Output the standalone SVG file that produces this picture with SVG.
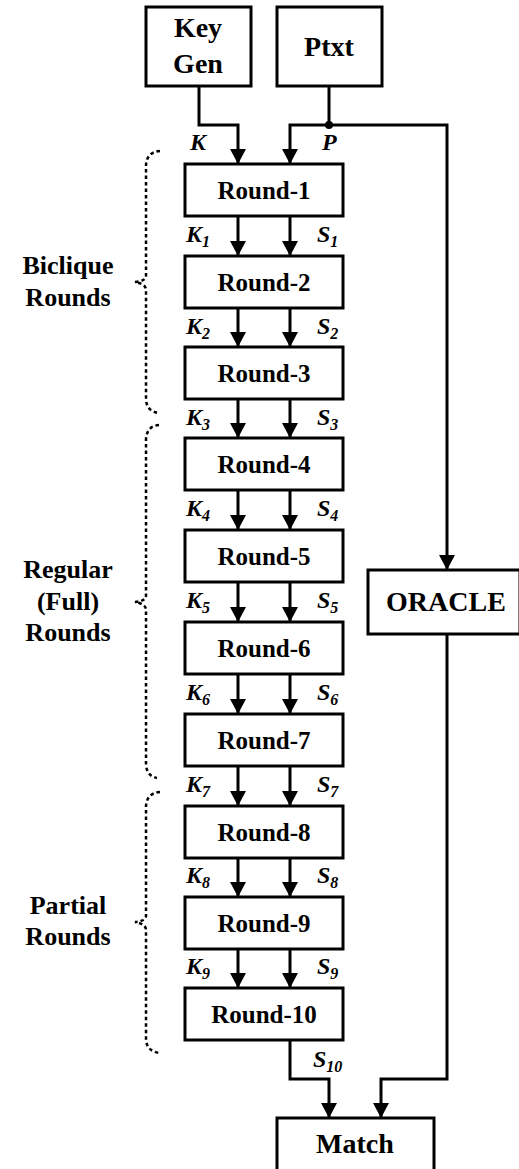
<svg xmlns="http://www.w3.org/2000/svg" width="519" height="1169" viewBox="0 0 519 1169">
  <defs>
    <marker id="arrow" viewBox="0 0 15 16" refX="15" refY="8" markerWidth="15" markerHeight="16" markerUnits="userSpaceOnUse" orient="auto">
      <path d="M0,0 L15,8 L0,16 z" fill="#000"/>
    </marker>
  </defs>
  <style>
    text { font-family: 'Liberation Serif', 'DejaVu Serif', serif; font-weight: bold; }
    .box { fill: #fff; stroke: #000; stroke-width: 3; }
    .wire { fill: none; stroke: #000; stroke-width: 3; marker-end: url(#arrow); }
    .brace { fill: none; stroke: #000; stroke-width: 2.5; stroke-dasharray: 3.5 3; }
    .big { font-size: 28px; text-anchor: middle; }
    .rnd { font-size: 25px; text-anchor: middle; }
    .side { font-size: 26px; text-anchor: middle; }
    .var { font-style: italic; font-size: 24px; }
    .sub { font-size: 16px; }
  </style>
  <rect width="519" height="1169" fill="#fff"/>

  <!-- connectors -->
  <g id="connectors">
    <path class="wire" d="M199,86 V125 H238 V164"/>
    <path class="wire" d="M329,86 V125 H290 V164"/>
    <path class="wire" d="M329,125 H447 V570"/>
    <circle cx="329" cy="125" r="4" fill="#000"/>
    <path class="wire" d="M238,216 V256"/><path class="wire" d="M290,216 V256"/>
    <path class="wire" d="M238,308 V347"/><path class="wire" d="M290,308 V347"/>
    <path class="wire" d="M238,399 V438"/><path class="wire" d="M290,399 V438"/>
    <path class="wire" d="M238,490 V530"/><path class="wire" d="M290,490 V530"/>
    <path class="wire" d="M238,582 V622"/><path class="wire" d="M290,582 V622"/>
    <path class="wire" d="M238,674 V714"/><path class="wire" d="M290,674 V714"/>
    <path class="wire" d="M238,766 V806"/><path class="wire" d="M290,766 V806"/>
    <path class="wire" d="M238,858 V897"/><path class="wire" d="M290,858 V897"/>
    <path class="wire" d="M238,949 V988"/><path class="wire" d="M290,949 V988"/>
    <path class="wire" d="M290,1040 V1079 H329 V1118"/>
    <path class="wire" d="M447,634 V1079 H381 V1118"/>

    <!-- signal labels -->
    <text class="var" x="190" y="150">K</text>
    <text class="var" x="322" y="150">P</text>
    <text class="var" x="186" y="242">K<tspan class="sub" dy="5">1</tspan></text>
    <text class="var" x="317" y="242">S<tspan class="sub" dy="5">1</tspan></text>
    <text class="var" x="186" y="334">K<tspan class="sub" dy="5">2</tspan></text>
    <text class="var" x="317" y="334">S<tspan class="sub" dy="5">2</tspan></text>
    <text class="var" x="186" y="425">K<tspan class="sub" dy="5">3</tspan></text>
    <text class="var" x="317" y="425">S<tspan class="sub" dy="5">3</tspan></text>
    <text class="var" x="186" y="516">K<tspan class="sub" dy="5">4</tspan></text>
    <text class="var" x="317" y="516">S<tspan class="sub" dy="5">4</tspan></text>
    <text class="var" x="186" y="608">K<tspan class="sub" dy="5">5</tspan></text>
    <text class="var" x="317" y="608">S<tspan class="sub" dy="5">5</tspan></text>
    <text class="var" x="186" y="700">K<tspan class="sub" dy="5">6</tspan></text>
    <text class="var" x="317" y="700">S<tspan class="sub" dy="5">6</tspan></text>
    <text class="var" x="186" y="792">K<tspan class="sub" dy="5">7</tspan></text>
    <text class="var" x="317" y="792">S<tspan class="sub" dy="5">7</tspan></text>
    <text class="var" x="186" y="883">K<tspan class="sub" dy="5">8</tspan></text>
    <text class="var" x="317" y="883">S<tspan class="sub" dy="5">8</tspan></text>
    <text class="var" x="186" y="974">K<tspan class="sub" dy="5">9</tspan></text>
    <text class="var" x="317" y="974">S<tspan class="sub" dy="5">9</tspan></text>
    <text class="var" x="313" y="1067">S<tspan class="sub" dy="5">10</tspan></text>
  </g>

  <!-- input nodes -->
  <g id="keygen">
    <rect class="box" x="146" y="7" width="105" height="79"/>
    <text class="big" x="198" y="37">Key</text>
    <text class="big" x="198" y="73">Gen</text>
  </g>
  <g id="ptxt">
    <rect class="box" x="277" y="7" width="105" height="79"/>
    <text class="big" x="329" y="56">Ptxt</text>
  </g>

  <!-- round stack -->
  <g id="round1"><rect class="box" x="185" y="164" width="158" height="52"/><text class="rnd" x="264" y="199">Round-1</text></g>
  <g id="round2"><rect class="box" x="185" y="256" width="158" height="52"/><text class="rnd" x="264" y="291">Round-2</text></g>
  <g id="round3"><rect class="box" x="185" y="347" width="158" height="52"/><text class="rnd" x="264" y="382">Round-3</text></g>
  <g id="round4"><rect class="box" x="185" y="438" width="158" height="52"/><text class="rnd" x="264" y="473">Round-4</text></g>
  <g id="round5"><rect class="box" x="185" y="530" width="158" height="52"/><text class="rnd" x="264" y="565">Round-5</text></g>
  <g id="round6"><rect class="box" x="185" y="622" width="158" height="52"/><text class="rnd" x="264" y="657">Round-6</text></g>
  <g id="round7"><rect class="box" x="185" y="714" width="158" height="52"/><text class="rnd" x="264" y="749">Round-7</text></g>
  <g id="round8"><rect class="box" x="185" y="806" width="158" height="52"/><text class="rnd" x="264" y="841">Round-8</text></g>
  <g id="round9"><rect class="box" x="185" y="897" width="158" height="52"/><text class="rnd" x="264" y="932">Round-9</text></g>
  <g id="round10"><rect class="box" x="185" y="988" width="158" height="52"/><text class="rnd" x="264" y="1023">Round-10</text></g>

  <!-- oracle and comparison -->
  <g id="oracle">
    <rect class="box" x="368" y="570" width="152" height="64"/>
    <text class="big" x="446" y="611">ORACLE</text>
  </g>
  <g id="match">
    <rect class="box" x="277" y="1118" width="157" height="60"/>
    <text class="big" x="355" y="1153">Match</text>
  </g>

  <!-- round grouping braces -->
  <g id="group-biclique">
    <path class="brace" d="M160,151 Q147,152 146,165 L146,276 Q146,281 135,282 Q146,284 146,290 L146,400 Q147,411 158,413"/>
    <text class="side" x="68" y="274">Biclique</text>
    <text class="side" x="68" y="306">Rounds</text>
  </g>
  <g id="group-regular">
    <path class="brace" d="M159,425 Q147,426 146,439 L146,596 Q146,601 135,602 Q146,604 146,610 L146,765 Q147,776 157,778"/>
    <text class="side" x="68" y="578">Regular</text>
    <text class="side" x="68" y="610">(Full)</text>
    <text class="side" x="68" y="641">Rounds</text>
  </g>
  <g id="group-partial">
    <path class="brace" d="M160,792 Q147,793 146,806 L146,916 Q146,921 135,922 Q146,924 146,930 L146,1040 Q147,1051 159,1053"/>
    <text class="side" x="68" y="914">Partial</text>
    <text class="side" x="68" y="945">Rounds</text>
  </g>
</svg>
